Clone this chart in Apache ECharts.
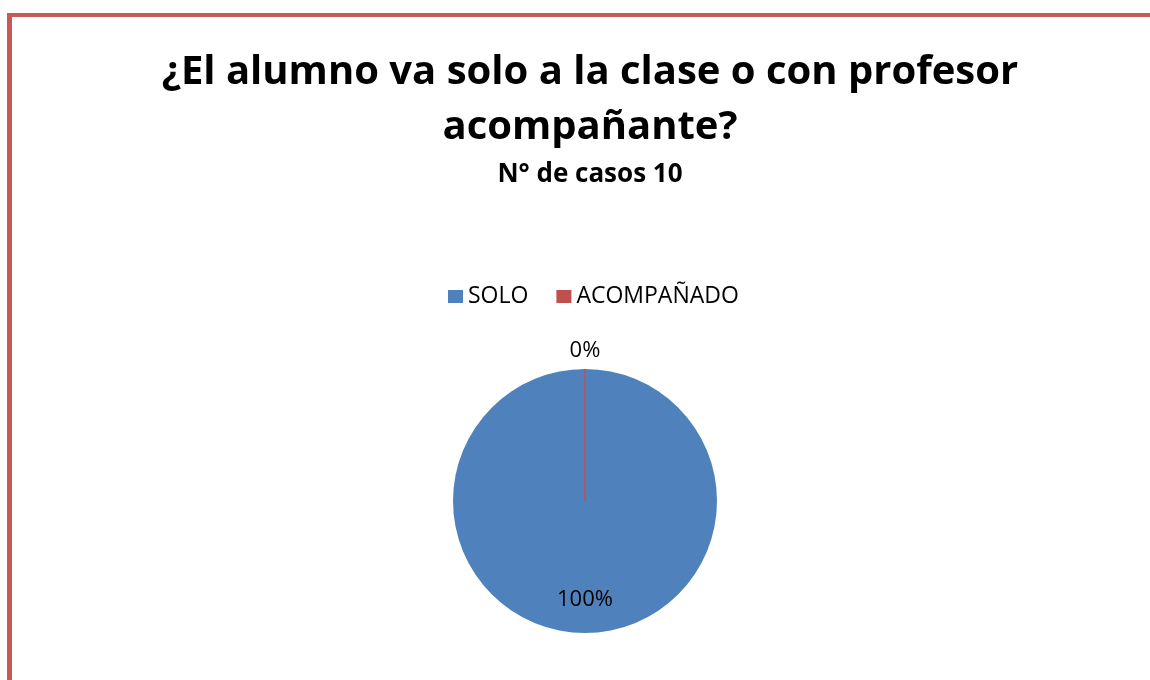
<!DOCTYPE html>
<html>
<head>
<meta charset="utf-8">
<script src="https://cdn.jsdelivr.net/npm/echarts@6/dist/echarts.min.js"></script>
<style>
  html, body { margin: 0; padding: 0; background: #fff; }
  #frame {
    position: absolute; left: 7px; top: 13px; width: 1150px; height: 680px;
    border-left: 5px solid #c55a57; border-top: 4px solid #c55a57;
  }
  #main { position: absolute; left: 0; top: 0; width: 1150px; height: 680px; }
</style>
</head>
<body>
<div id="frame"></div>
<div id="main"></div>
<script>
  // datos del grafico
  var categorias = ["SOLO", "ACOMPAÑADO"];
  var valores = [10, 0];
  var colores = ["#4f81bd", "#c0504d"];

  var myChart = echarts.init(document.getElementById("main"));

  var datos = [];
  for (var i in categorias) {
    datos.push({
      name: categorias[i],
      value: valores[i],
      itemStyle: { color: colores[i] }
    });
  }
  // la etiqueta de 100% va dentro abajo, la de 0% encima del circulo
  datos[0].label = { position: "inside", offset: [0, 30] };
  datos[1].label = { position: "inside", offset: [0, -81] };
  datos[1].itemStyle.borderColor = "#c0504d";
  datos[1].itemStyle.borderWidth = 1;

  var option = {
    animation: false,
    title: {
      text: "¿El alumno va solo a la clase o con profesor\nacompañante?",
      subtext: "N° de casos 10",
      left: 585,
      textAlign: "center",
      top: 40,
      itemGap: 6,
      textStyle: {
        fontFamily: "Open Sans",
        fontWeight: "bold",
        fontSize: 40,
        lineHeight: 55,
        color: "#000"
      },
      subtextStyle: {
        fontFamily: "Open Sans",
        fontWeight: "bold",
        fontSize: 26,
        lineHeight: 28,
        color: "#000"
      }
    },
    legend: {
      top: 280,
      left: 443,
      icon: "rect",
      itemWidth: 15,
      itemHeight: 13,
      itemGap: 28,
      itemStyle: { borderWidth: 0 },
      data: categorias,
      textStyle: { fontFamily: "Open Sans", fontSize: 23, color: "#000", padding: [0, 0, 0, 0] }
    },
    series: [
      {
        name: "Alumno",
        type: "pie",
        center: [585, 501],
        radius: 132,
        startAngle: 90,
        minAngle: 0,
        avoidLabelOverlap: false,
        label: {
          show: true,
          formatter: "{d}%",
          fontFamily: "Open Sans",
          fontSize: 22,
          color: "#000"
        },
        labelLine: { show: false },
        emphasis: { disabled: true },
        data: datos
      }
    ]
  };
  myChart.setOption(option);
</script>
</body>
</html>
